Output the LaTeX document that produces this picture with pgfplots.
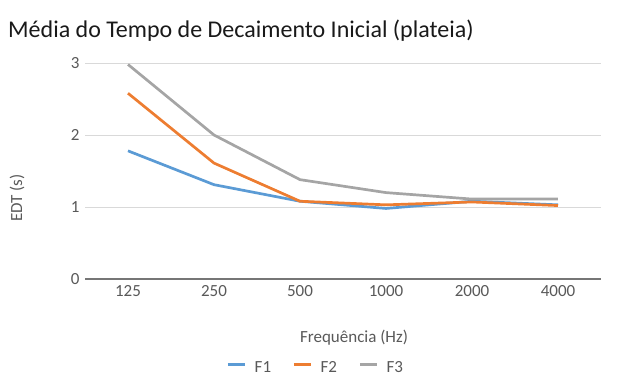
\documentclass[border=0pt]{standalone}
\usepackage{pgfplots}
\pgfplotsset{compat=1.18}
\usepackage{fontspec}
\setmainfont{Carlito}
\definecolor{c1}{HTML}{5B9BD5}
\definecolor{c2}{HTML}{ED7D31}
\definecolor{c3}{HTML}{A5A5A5}
\definecolor{txt}{HTML}{595959}
\definecolor{gridc}{HTML}{D9D9D9}
\definecolor{axisc}{HTML}{767676}
\begin{document}
\begin{tikzpicture}[x=1pt,y=1pt]
\useasboundingbox (0,0) rectangle (621,376);
\node[anchor=base west, font=\fontsize{24}{28}\selectfont, inner sep=0, text=black!90] at (8,339) {Média do Tempo de Decaimento Inicial (plateia)};
\begin{axis}[
  at={(85pt,97pt)}, anchor=south west,
  scale only axis, width=516pt, height=216pt,
  xmin=-0.5, xmax=5.5, ymin=0, ymax=3,
  xtick={0,1,2,3,4,5},
  xticklabels={125,250,500,1000,2000,4000},
  ytick={0,1,2,3},
  ymajorgrids,
  grid style={color=gridc, line width=0.9pt},
  axis x line*=bottom,
  axis y line*=left,
  x axis line style={color=axisc, line width=1.4pt, -},
  y axis line style={draw=none},
  major tick length=0pt,
  tick style={draw=none},
  ticklabel style={font=\fontsize{17}{19}\selectfont, text=txt},
  /pgf/number format/assume math mode=true,
  xticklabel style={yshift=-3pt},
  yticklabel style={xshift=-2pt},
  legend style={at={(axis description cs:0.446,-0.41)}, anchor=center, draw=none, fill=none,
    font=\fontsize{17}{19}\selectfont, text=txt, legend columns=3, inner sep=1pt,
    nodes={inner sep=1pt},
    /tikz/every odd column/.append style={column sep=7pt},
    /tikz/every even column/.append style={column sep=20pt}},
  legend image code/.code={\draw[#1, line width=3.5pt] (0pt,3pt) -- (17pt,3pt);},
]
\addplot[c1, line width=2.7pt] coordinates {(0,1.78) (1,1.31) (2,1.08) (3,0.98) (4,1.08) (5,1.03)};
\addplot[c2, line width=2.7pt] coordinates {(0,2.58) (1,1.61) (2,1.08) (3,1.03) (4,1.07) (5,1.02)};
\addplot[c3, line width=2.7pt] coordinates {(0,2.98) (1,2.00) (2,1.38) (3,1.20) (4,1.11) (5,1.11)};
\legend{F1,F2,F3}
\end{axis}
\node[rotate=90, font=\fontsize{17}{19}\selectfont, text=txt] at (17,178) {EDT (s)};
\node[font=\fontsize{17}{19}\selectfont, text=txt] at (354,38) {Frequência (Hz)};
\end{tikzpicture}
\end{document}
